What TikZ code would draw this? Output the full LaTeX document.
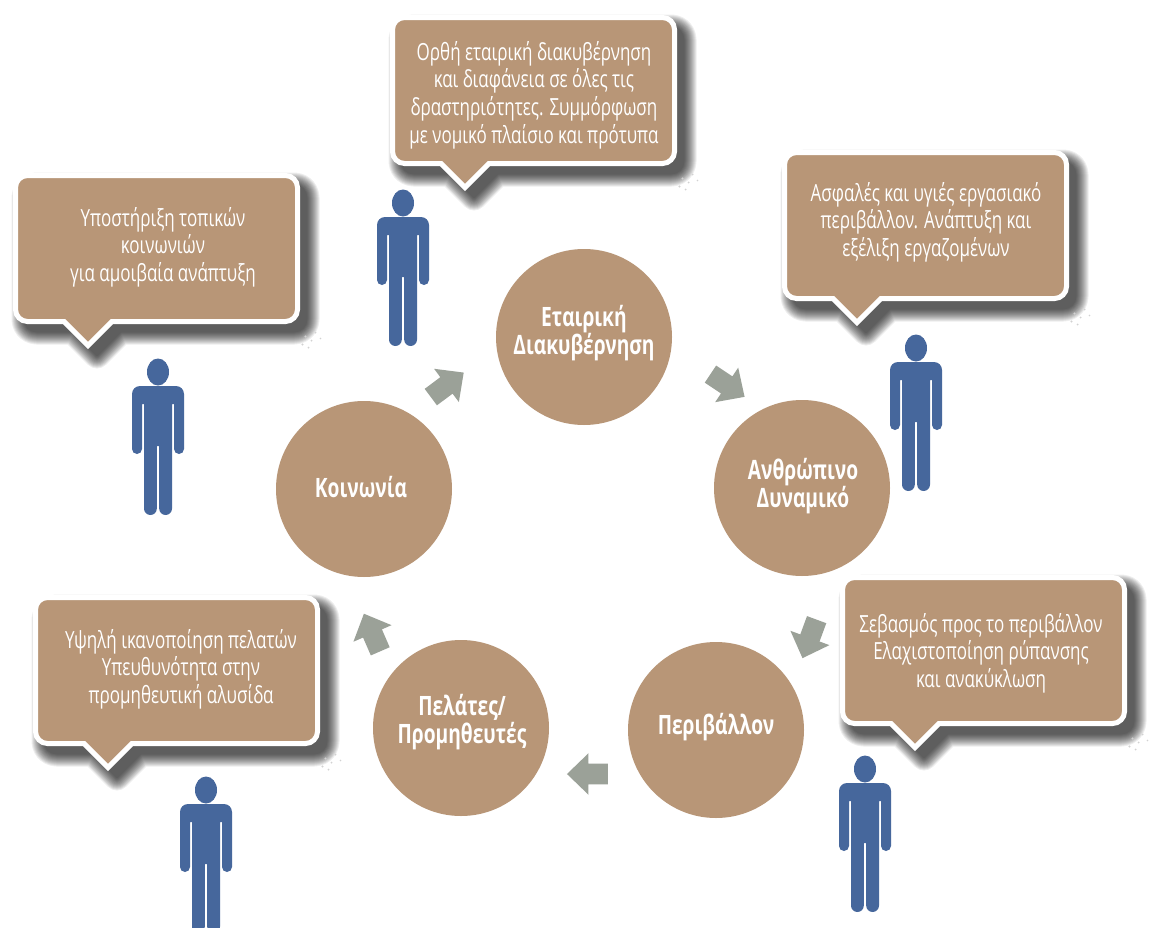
\documentclass[tikz,border=0pt]{standalone}
\usepackage{fontspec}
\usetikzlibrary{shapes.arrows}
\newfontfamily\diagfont[FakeStretch=0.72]{Open Sans}
\definecolor{boxbrown}{HTML}{B89677}
\definecolor{manblue}{HTML}{46679C}
\definecolor{arrowgrey}{HTML}{9BA198}
\def\px{0.75pt}
\newcommand{\bshape}{(12,0) -- (270,0) arc[start angle=-90,end angle=0,radius=12] -- (282,134) arc[start angle=0,end angle=90,radius=12] -- (96.5,146) -- (72.5,170) -- (48.5,146) -- (12,146) arc[start angle=90,end angle=180,radius=12] -- (0,12) arc[start angle=180,end angle=270,radius=12] -- cycle}
\newcommand{\bubble}[2]{%
  \begin{scope}[shift={(#1+2.5,#2+2.5)}]
    \foreach \w in {26,24,22,20,18,16,14,12,10,8,6,4,2}{
      \begin{scope}[transparency group,opacity=.07]
        \path[fill=black,draw=black,line width=\w*\px,line join=round] [shift={(9,10)}] \bshape;
      \end{scope}
    }
    \fill[gray!35] (290,161) circle[radius=1.2] (296,165) circle[radius=1] (300,157) circle[radius=1] (287,169) circle[radius=1.2] (293,172) circle[radius=1] (305,163) circle[radius=.8];
    \path[fill=boxbrown,draw=white,line width=5*\px,miter limit=4] \bshape;
  \end{scope}}
\tikzset{
  x=0.75pt,y=-0.75pt,
  hub/.style={circle,fill=boxbrown,minimum size=176*\px,inner sep=0pt,outer sep=0pt},
  hublabel/.style={align=center,text=white,font=\diagfont\bfseries\fontsize{20pt}{21.6pt}\selectfont,inner sep=0pt},
  bubbletext/.style={align=center,text=white,font=\diagfont\fontsize{17.7pt}{20.7pt}\selectfont,inner sep=0pt},
  blockarrow/.style={single arrow,fill=arrowgrey,inner sep=0pt,outer sep=0pt,minimum height=41*\px,single arrow head extend=10.5*\px,single arrow tip angle=88},
  person/.pic={
    \fill[manblue] (0,-14) ellipse[x radius=11,y radius=13.5];
    \fill[manblue] (-18,0) -- (18,0) arc[start angle=-90,end angle=0,radius=8] -- (26,63) arc[start angle=0,end angle=180,radius=5] -- (16,18) -- (14,18) -- (14,122.6) arc[start angle=0,end angle=180,radius=6.4] -- (1.2,60) -- (-1.2,60) -- (-1.2,122.6) arc[start angle=0,end angle=180,radius=6.4] -- (-14,18) -- (-16,18) -- (-16,63) arc[start angle=0,end angle=180,radius=5] -- (-26,8) arc[start angle=180,end angle=270,radius=8] -- cycle;
  }
}
\newcommand{\shaft}{\rule{0pt}{15pt}}
\begin{document}
\begin{tikzpicture}
\useasboundingbox (0,0) rectangle (1150,928);
\clip (0,0) rectangle (1150,928);
\fill[white] (0,0) rectangle (1150,928);

\bubble{390}{15}
\bubble{13}{173}
\bubble{782}{150}
\bubble{840}{575}
\bubble{33}{595}

\node[bubbletext] (t1) at (534,95) {Ορθή εταιρική διακυβέρνηση\\και διαφάνεια σε όλες τις\\δραστηριότητες. Συμμόρφωση\\με νομικό πλαίσιο και πρότυπα};
\node[bubbletext] (t2) at (163,247) {Υποστήριξη τοπικών\\κοινωνιών\\για αμοιβαία ανάπτυξη};
\node[bubbletext] (t3) at (926,222) {Ασφαλές και υγιές εργασιακό\\περιβάλλον. Ανάπτυξη και\\εξέλιξη εργαζομένων};
\node[bubbletext] (t4) at (981,653) {Σεβασμός προς το περιβάλλον\\Ελαχιστοποίηση ρύπανσης\\και ανακύκλωση};
\node[bubbletext] (t5) at (181,669) {Υψηλή ικανοποίηση πελατών\\Υπευθυνότητα στην\\προμηθευτική αλυσίδα};

\node[hub] (c1) at (584,337) {};
\node[hub] (c2) at (802,488) {};
\node[hub] (c3) at (716,730) {};
\node[hub] (c4) at (461,728) {};
\node[hub] (c5) at (364,489) {};

\node[hublabel] (l1) at (584,333) {Εταιρική\\Διακυβέρνηση};
\node[hublabel] (l2) at (803,486) {Ανθρώπινο\\Δυναμικό};
\node[hublabel] (l3) at (716,727) {Περιβάλλον};
\node[hublabel] (l4) at (462,722) {Πελάτες/\\Προμηθευτές};
\node[hublabel] (l5) at (361,487) {Κοινωνία};

\node[blockarrow,rotate=-33.7] (a1) at (723.1,382.5) {\shaft};
\node[blockarrow,rotate=249.8] (a2) at (811.4,633.9) {\shaft};
\node[blockarrow,rotate=180] (a3) at (592.8,774) {\shaft};
\node[blockarrow,rotate=113.5] (a4) at (374.2,637.4) {\shaft};
\node[blockarrow,rotate=36.7] (a5) at (443,388) {\shaft};

\pic (p1) at (403,217) {person};
\pic (p2) at (158,386) {person};
\pic (p3) at (916,362) {person};
\pic (p4) at (865,783) {person};
\pic (p5) at (206,804) {person};
\end{tikzpicture}
\end{document}
